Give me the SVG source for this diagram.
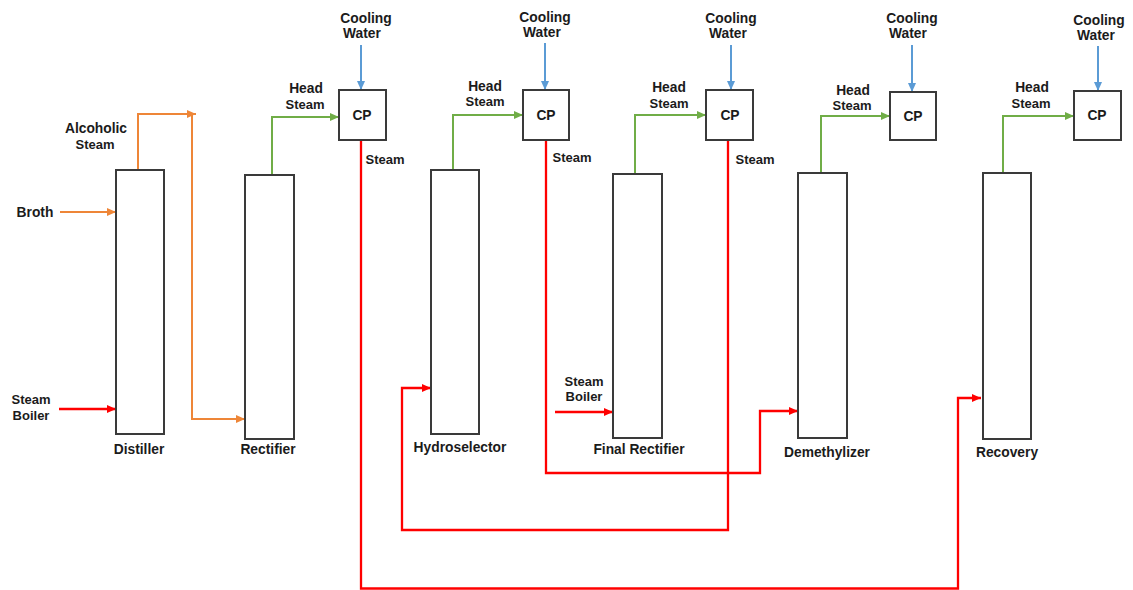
<svg xmlns="http://www.w3.org/2000/svg" width="1133" height="590" viewBox="0 0 1133 590">
<style>
.col{fill:#fff;stroke:#3a3a3a;stroke-width:2}
.t{font-family:"Liberation Sans",Arial,sans-serif;font-weight:bold;font-size:13.8px;fill:#1b1b1b;text-anchor:middle}
.s{font-size:13px}
.c{fill:none;stroke-width:2}
.rd{stroke-width:2.3}
.or{stroke:#EE8638}
.gr{stroke:#70AD47}
.bl{stroke:#5B9BD5}
.rd{stroke:#FF0000}
</style>
<defs>
<marker id="aO" markerUnits="userSpaceOnUse" markerWidth="9" markerHeight="8" refX="9" refY="4" orient="auto"><path d="M0,0 L9,4 L0,8 z" fill="#EE8638"/></marker>
<marker id="aG" markerUnits="userSpaceOnUse" markerWidth="9" markerHeight="8" refX="9" refY="4" orient="auto"><path d="M0,0 L9,4 L0,8 z" fill="#70AD47"/></marker>
<marker id="aB" markerUnits="userSpaceOnUse" markerWidth="9" markerHeight="8" refX="9" refY="4" orient="auto"><path d="M0,0 L9,4 L0,8 z" fill="#5B9BD5"/></marker>
<marker id="aR" markerUnits="userSpaceOnUse" markerWidth="9" markerHeight="8" refX="9" refY="4" orient="auto"><path d="M0,0 L9,4 L0,8 z" fill="#FF0000"/></marker>
</defs>
<rect width="1133" height="590" fill="#fff"/>

<g id="connectors">
<path class="c or" d="M138,170 V114 H196" marker-end="url(#aO)"/>
<path class="c or" d="M192,114 V419 H245" marker-end="url(#aO)"/>
<path class="c or" d="M60,212 H116" marker-end="url(#aO)"/>
<path class="c rd" d="M59,409 H116" marker-end="url(#aR)"/>
<path class="c rd" d="M555,412 H613" marker-end="url(#aR)"/>
<path class="c gr" d="M272,175 V117 H339" marker-end="url(#aG)"/>
<path class="c gr" d="M453,170 V115 H523" marker-end="url(#aG)"/>
<path class="c gr" d="M635,174 V115 H706" marker-end="url(#aG)"/>
<path class="c gr" d="M821,173 V116 H890" marker-end="url(#aG)"/>
<path class="c gr" d="M1003,173 V116 H1074" marker-end="url(#aG)"/>
<path class="c bl" d="M361,45 V90" marker-end="url(#aB)"/>
<path class="c bl" d="M545,43 V90" marker-end="url(#aB)"/>
<path class="c bl" d="M731,45 V90" marker-end="url(#aB)"/>
<path class="c bl" d="M912,45 V92" marker-end="url(#aB)"/>
<path class="c bl" d="M1098,46 V91" marker-end="url(#aB)"/>
<path class="c rd" d="M361,140 V588.5 H958 V398 H981" marker-end="url(#aR)"/>
<path class="c rd" d="M546,140 V473 H760 V411 H798" marker-end="url(#aR)"/>
<path class="c rd" d="M728,140 V530 H402 V388 H431" marker-end="url(#aR)"/>
</g>

<g id="distiller"><rect class="col" x="116" y="170" width="48" height="264"/><text class="t" x="139" y="454">Distiller</text></g>
<g id="rectifier"><rect class="col" x="245" y="175" width="49" height="264"/><text class="t" x="268" y="454">Rectifier</text></g>
<g id="hydroselector"><rect class="col" x="431" y="170" width="48" height="264"/><text class="t" x="460" y="452">Hydroselector</text></g>
<g id="final-rectifier"><rect class="col" x="613" y="174" width="49" height="264"/><text class="t" x="639" y="454">Final Rectifier</text></g>
<g id="demethylizer"><rect class="col" x="798" y="173" width="49" height="265"/><text class="t" x="827" y="457">Demethylizer</text></g>
<g id="recovery"><rect class="col" x="983" y="173" width="48" height="266"/><text class="t" x="1007" y="457">Recovery</text></g>

<g id="cp1"><rect class="col" x="339" y="90" width="47" height="50"/><text class="t" x="362" y="120">CP</text></g>
<g id="cp2"><rect class="col" x="523" y="90" width="46" height="50"/><text class="t" x="546" y="120">CP</text></g>
<g id="cp3"><rect class="col" x="706" y="90" width="47" height="50"/><text class="t" x="730" y="120">CP</text></g>
<g id="cp4"><rect class="col" x="890" y="92" width="46" height="48"/><text class="t" x="913" y="121">CP</text></g>
<g id="cp5"><rect class="col" x="1074" y="91" width="47" height="49"/><text class="t" x="1097" y="120">CP</text></g>

<g id="labels">
<text class="t" x="35" y="217">Broth</text>
<text class="t s" x="31" y="404">Steam</text>
<text class="t s" x="31" y="420">Boiler</text>
<text class="t s" x="584" y="386">Steam</text>
<text class="t s" x="584" y="401">Boiler</text>
<text class="t" x="96" y="133">Alcoholic</text>
<text class="t s" x="95" y="149">Steam</text>
<text class="t" x="366" y="23">Cooling</text>
<text class="t" x="362" y="38">Water</text>
<text class="t" x="545" y="22">Cooling</text>
<text class="t" x="542" y="37">Water</text>
<text class="t" x="731" y="23">Cooling</text>
<text class="t" x="728" y="38">Water</text>
<text class="t" x="912" y="23">Cooling</text>
<text class="t" x="908" y="38">Water</text>
<text class="t" x="1099" y="25">Cooling</text>
<text class="t" x="1096" y="40">Water</text>
<text class="t" x="306" y="93">Head</text>
<text class="t s" x="305" y="109">Steam</text>
<text class="t" x="485" y="91">Head</text>
<text class="t s" x="485" y="106">Steam</text>
<text class="t" x="669" y="92">Head</text>
<text class="t s" x="669" y="108">Steam</text>
<text class="t" x="853" y="95">Head</text>
<text class="t s" x="852" y="110">Steam</text>
<text class="t" x="1032" y="92">Head</text>
<text class="t s" x="1031" y="108">Steam</text>
<text class="t s" x="385" y="164">Steam</text>
<text class="t s" x="572" y="162">Steam</text>
<text class="t s" x="755" y="164">Steam</text>
</g>
</svg>
